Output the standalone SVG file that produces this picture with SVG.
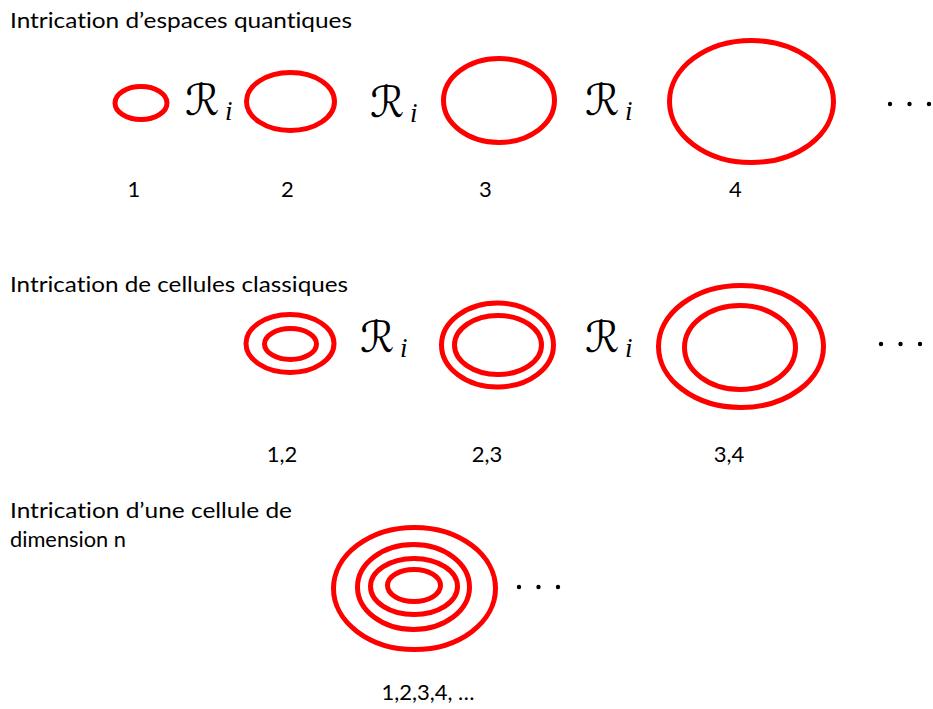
<svg xmlns="http://www.w3.org/2000/svg" width="933" height="709" viewBox="0 0 933 709">
<style>
.ring{fill:none;stroke:#ff0000;stroke-width:5}
.t{font-family:Lato,"Open Sans","Liberation Sans",sans-serif;font-size:22px;fill:#000;font-variant-ligatures:none}
.lbl{font-family:Lato,"Open Sans","Liberation Sans",sans-serif;font-size:22px;fill:#000;text-anchor:middle}
.R{font-family:"DejaVu Serif","DejaVu Sans",serif;font-size:43px;fill:#000}
.i{font-family:"Liberation Serif",serif;font-style:italic;font-size:27px;fill:#000}
.dot{fill:#000}
</style>
<defs>
<g id="Ri">
<text class="R" x="-2" y="0">ℛ</text>
<text class="i" x="38" y="5">i</text>
</g>
<g id="dots">
<circle class="dot" cx="0" cy="0" r="2.2"/>
<circle class="dot" cx="19.5" cy="0" r="2.2"/>
<circle class="dot" cx="39" cy="0" r="2.2"/>
</g>
</defs>

<g id="titles">
<text class="t" x="10" y="28" textLength="342" lengthAdjust="spacingAndGlyphs">Intrication d’espaces quantiques</text>
<text class="t" x="10" y="292" textLength="338" lengthAdjust="spacingAndGlyphs">Intrication de cellules classiques</text>
<text class="t" x="10" y="518" textLength="282" lengthAdjust="spacingAndGlyphs">Intrication d’une cellule de</text>
<text class="t" x="10" y="547" textLength="116" lengthAdjust="spacingAndGlyphs">dimension n</text>
</g>

<g id="row1">
<g id="n1"><ellipse class="ring" cx="141" cy="103" rx="26" ry="16.5"/><text class="lbl" x="134" y="197">1</text></g>
<g id="n2"><ellipse class="ring" cx="290.5" cy="101.5" rx="44" ry="29"/><text class="lbl" x="287.5" y="197">2</text></g>
<g id="n3"><ellipse class="ring" cx="499" cy="100.5" rx="55.5" ry="42"/><text class="lbl" x="485.5" y="197">3</text></g>
<g id="n4"><ellipse class="ring" cx="751.5" cy="101.5" rx="82" ry="61"/><text class="lbl" x="735.5" y="197">4</text></g>
</g>

<g id="row2">
<g id="n12"><ellipse class="ring" cx="290" cy="343.5" rx="44" ry="29"/><ellipse class="ring" cx="290.5" cy="344" rx="26" ry="15.5"/><text class="lbl" x="282" y="462">1,2</text></g>
<g id="n23"><ellipse class="ring" cx="497.5" cy="345" rx="56" ry="42"/><ellipse class="ring" cx="498" cy="345" rx="43.5" ry="29.5"/><text class="lbl" x="487" y="462">2,3</text></g>
<g id="n34"><ellipse class="ring" cx="741" cy="346.5" rx="82.5" ry="61"/><ellipse class="ring" cx="740" cy="347.5" rx="55.5" ry="42"/><text class="lbl" x="729" y="462">3,4</text></g>
</g>

<g id="row3">
<g id="nn">
<ellipse class="ring" cx="414.5" cy="588.5" rx="81" ry="61"/>
<ellipse class="ring" cx="413.5" cy="587" rx="56" ry="42.5"/>
<ellipse class="ring" cx="414" cy="586.5" rx="43.5" ry="28"/>
<ellipse class="ring" cx="414" cy="585.5" rx="26.5" ry="16"/>
<text class="lbl" x="428" y="700">1,2,3,4, …</text>
</g>
</g>

<g id="connectors">
<use href="#Ri" x="187" y="115"/>
<use href="#Ri" x="372" y="117"/>
<use href="#Ri" x="587" y="115"/>
<use href="#Ri" x="362" y="352"/>
<use href="#Ri" x="587" y="352"/>
<use href="#dots" x="890" y="104"/>
<use href="#dots" x="881" y="344"/>
<use href="#dots" x="519" y="587"/>
</g>
</svg>
